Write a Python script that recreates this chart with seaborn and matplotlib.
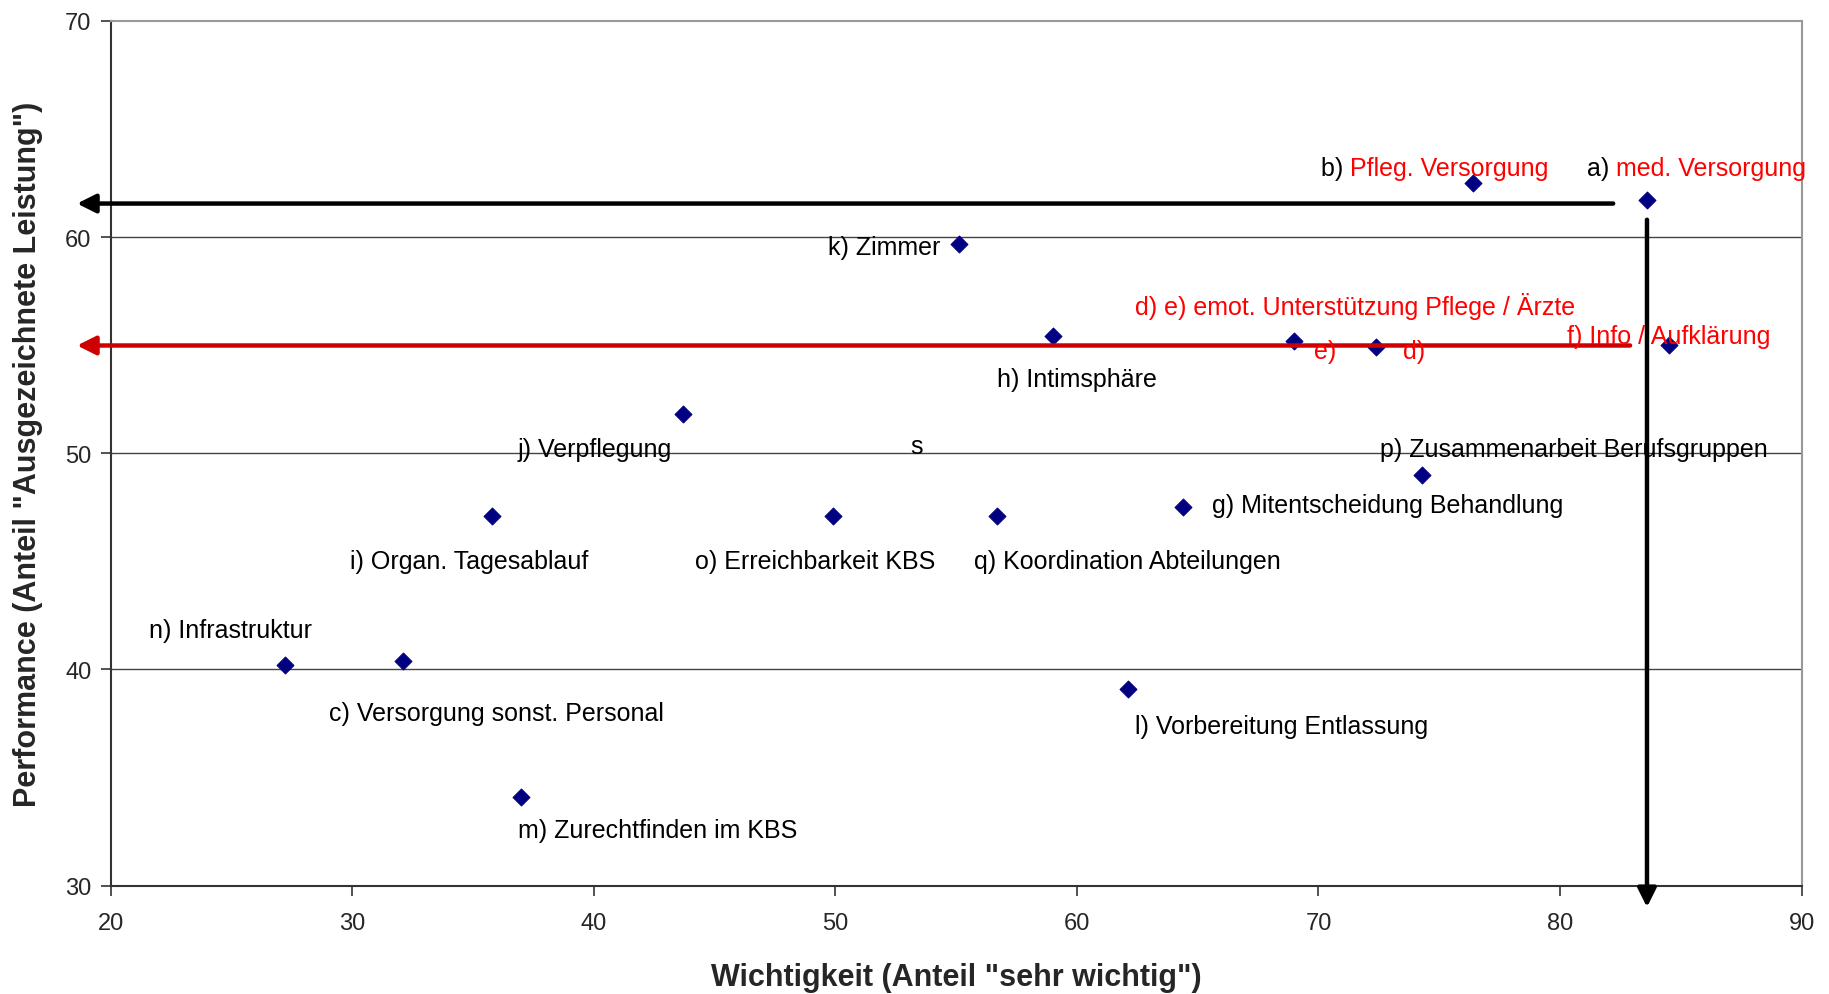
import matplotlib
matplotlib.use("Agg")
import matplotlib.pyplot as plt
import seaborn as sns
import pandas as pd

# item codes, importance (x) and performance (y)
codes = ['a', 'b', 'k', 'h', 'e', 'd', 'f', 'j', 'p', 'g', 'i', 'o', 'q', 'n', 'c', 'l', 'm']
wichtigkeit = [83.6, 76.4, 55.1, 59.0, 69.0, 72.4, 84.5, 43.7, 74.3, 64.4, 35.8, 49.9, 56.7, 27.2, 32.1, 62.1, 37.0]
performance = [61.7, 62.5, 59.7, 55.4, 55.2, 54.9, 55.0, 51.8, 49.0, 47.5, 47.1, 47.1, 47.1, 40.2, 40.4, 39.1, 34.1]

# label texts: (black prefix, text, colour of text, x, y)
labels = [
    ('a) ', 'med. Versorgung', 'red', 81.1, 63.2),
    ('b) ', 'Pfleg. Versorgung', 'red', 70.1, 63.2),
    ('', 'k) Zimmer', 'black', 49.7, 59.55),
    ('', 'd) e) emot. Unterstützung Pflege / Ärzte', 'red', 62.4, 56.85),
    ('', 'e)', 'red', 69.8, 54.75),
    ('', 'd)', 'red', 73.5, 54.75),
    ('', 'f) Info / Aufklärung', 'red', 80.3, 55.4),
    ('', 'h) Intimsphäre', 'black', 56.7, 53.45),
    ('', 'j) Verpflegung', 'black', 36.85, 50.2),
    ('', 's', 'black', 53.1, 50.35),
    ('', 'p) Zusammenarbeit Berufsgruppen', 'black', 72.55, 50.2),
    ('', 'g) Mitentscheidung Behandlung', 'black', 65.6, 47.6),
    ('', 'i) Organ. Tagesablauf', 'black', 29.9, 45.0),
    ('', 'o) Erreichbarkeit KBS', 'black', 44.2, 45.0),
    ('', 'q) Koordination Abteilungen', 'black', 55.75, 45.0),
    ('', 'n) Infrastruktur', 'black', 21.6, 41.8),
    ('', 'c) Versorgung sonst. Personal', 'black', 29.05, 38.0),
    ('', 'l) Vorbereitung Entlassung', 'black', 62.4, 37.4),
    ('', 'm) Zurechtfinden im KBS', 'black', 36.85, 32.55),
]

df = pd.DataFrame({'code': codes, 'x': wichtigkeit, 'y': performance})

sns.set_style('white')
plt.rcParams['font.family'] = ['Liberation Sans', 'DejaVu Sans']

fig, ax = plt.subplots(figsize=(18.29, 9.95), dpi=100)
fig.subplots_adjust(left=0.0606, right=0.985, top=0.978, bottom=0.109)

ax.set_xlim(20, 90)
ax.set_ylim(30, 70)
ax.set_xticks(range(20, 91, 10))
ax.set_yticks(range(30, 71, 10))
for yv in (40, 50, 60):
    ax.axhline(yv, color='#444444', lw=1.0, zorder=0)

sns.scatterplot(data=df, x='x', y='y', marker='D', s=75, color='#000080',
                edgecolor='#000080', ax=ax, zorder=3)

# reference arrows: performance of a), mean of d/e/f and importance of a)
a_x = df.loc[df.code == 'a', 'x'].iloc[0]
a_y = df.loc[df.code == 'a', 'y'].iloc[0]
def_y = df.loc[df.code.isin(['d', 'e', 'f']), 'y'].mean()

arrow_kw = dict(arrowstyle='-|>', lw=3.2, mutation_scale=28, shrinkA=0, shrinkB=0)
ax.annotate('', xy=(18.6, a_y - 0.15), xytext=(82.2, a_y - 0.15),
            arrowprops=dict(color='black', **arrow_kw), annotation_clip=False, zorder=4)
ax.annotate('', xy=(18.6, def_y - 0.05), xytext=(82.9, def_y - 0.05),
            arrowprops=dict(color='#CC0000', **arrow_kw), annotation_clip=False, zorder=4)
ax.annotate('', xy=(a_x, 29.0), xytext=(a_x, 60.8),
            arrowprops=dict(color='black', **arrow_kw), annotation_clip=False, zorder=4)

fs = 18
for prefix, text, col, lx, ly in labels:
    if prefix:
        t = ax.text(lx, ly, prefix, color='black', fontsize=fs, va='center', ha='left', zorder=5)
        fig.canvas.draw()
        bb = t.get_window_extent().transformed(ax.transData.inverted())
        ax.text(bb.x1, ly, text, color='red', fontsize=fs, va='center', ha='left', zorder=5)
    else:
        ax.text(lx, ly, text, color=col, fontsize=fs, va='center', ha='left', zorder=5)

ax.set_xlabel('Wichtigkeit (Anteil "sehr wichtig")', fontsize=22, fontweight='bold', labelpad=20)
ax.set_ylabel('Performance (Anteil "Ausgezeichnete Leistung")', fontsize=22, fontweight='bold', labelpad=16)
ax.tick_params(axis='both', labelsize=17, direction='out', length=7, width=1.2,
               color='#333333', bottom=True, left=True)
ax.tick_params(axis='x', pad=12)
ax.tick_params(axis='y', pad=7)

for side in ('left', 'bottom'):
    ax.spines[side].set_color('#333333')
    ax.spines[side].set_linewidth(1.5)
for side in ('top', 'right'):
    ax.spines[side].set_color('#999999')
    ax.spines[side].set_linewidth(1.5)

fig.savefig('out.png', dpi=100)
